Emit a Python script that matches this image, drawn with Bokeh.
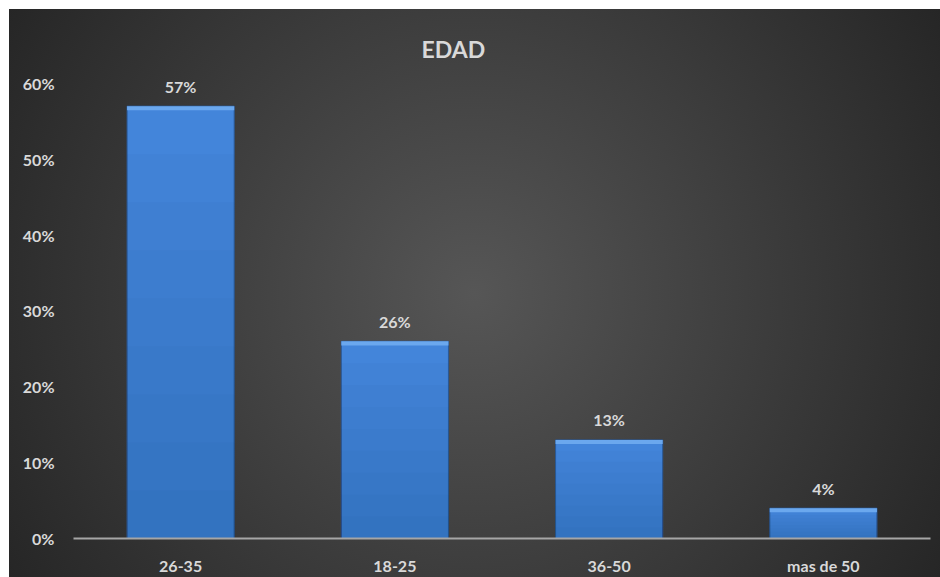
from bokeh.plotting import figure
from bokeh.models import ColumnDataSource, LabelSet, FixedTicker
from bokeh.core.properties import value
from bokeh.embed import file_html
from bokeh.resources import INLINE

# Age distribution (share of respondents, %)
categories = ["26-35", "18-25", "36-50", "mas de 50"]
shares = [57, 26, 13, 4]
share_labels = [f"{v}%" for v in shares]
y_ticks = [0, 10, 20, 30, 40, 50, 60]
y_tick_labels = [f"{t}%" for t in y_ticks]

FONT = "Lato"
TEXT_COLOR = "#d9d9d9"

source = ColumnDataSource(dict(
    cat=categories,
    share=shares,
    label=share_labels,
    bevel_bottom=[v - 0.55 for v in shares],
))

p = figure(
    x_range=categories,
    y_range=(0, 61.7),
    width=940,
    height=577,
    output_backend="svg",
    toolbar_location=None,
    min_border_left=73,
    min_border_right=10,
    min_border_top=70,
    min_border_bottom=38,
    background_fill_color=None,
    border_fill_color=None,
    outline_line_color=None,
)

# dark radial backdrop with a thin white strip on the top and left edges
p.styles = {
    "background": (
        "linear-gradient(#ffffff, #ffffff) 0 0 / 100% 9px no-repeat, "
        "linear-gradient(#ffffff, #ffffff) 0 0 / 9px 100% no-repeat, "
        "radial-gradient(circle at 474px 293px, #565656 0px, #262626 545px)"
    )
}

# bars: base fill, progressively darker toward the baseline, bevel on top
p.vbar(x="cat", top="share", width=0.5, source=source,
       fill_color="#4385da", line_color="#2b5a98", line_width=1)
for step in range(1, 9):
    frac = 1 - step / 9
    shade = ColumnDataSource(dict(cat=categories, top=[v * frac for v in shares]))
    p.vbar(x="cat", top="top", width=0.5, source=shade,
           fill_color="#0d2448", fill_alpha=0.023, line_color=None)
p.vbar(x="cat", top="share", bottom="bevel_bottom", width=0.5, source=source,
       fill_color="#6ba8ee", line_color=None)

labels = LabelSet(x="cat", y="share", text="label", source=source,
                  text_align="center", text_baseline="middle", y_offset=20,
                  text_color=TEXT_COLOR, text_font=value(FONT),
                  text_font_style="bold", text_font_size="16px")
p.add_layout(labels)

p.title.text = "EDAD"
p.title.align = "left"
p.title.offset = 348
p.title.standoff = 15
p.title.text_font = FONT
p.title.text_font_style = "bold"
p.title.text_font_size = "23px"
p.title.text_color = TEXT_COLOR

p.xgrid.grid_line_color = None
p.ygrid.grid_line_color = None

p.xaxis.axis_line_color = "#a6a6a6"
p.xaxis.axis_line_width = 2
p.xaxis.major_tick_line_color = None
p.xaxis.minor_tick_line_color = None
p.xaxis.major_label_standoff = 11
p.xaxis.major_label_text_color = TEXT_COLOR
p.xaxis.major_label_text_font = FONT
p.xaxis.major_label_text_font_style = "bold"
p.xaxis.major_label_text_font_size = "16px"

p.yaxis.ticker = FixedTicker(ticks=y_ticks)
p.yaxis.major_label_overrides = dict(zip(y_ticks, y_tick_labels))
p.yaxis.axis_line_color = None
p.yaxis.major_tick_line_color = None
p.yaxis.minor_tick_line_color = None
p.yaxis.major_label_standoff = 13
p.yaxis.major_label_text_color = TEXT_COLOR
p.yaxis.major_label_text_font = FONT
p.yaxis.major_label_text_font_style = "bold"
p.yaxis.major_label_text_font_size = "16px"

with open("out.html", "w") as f:
    f.write(file_html(p, INLINE))
